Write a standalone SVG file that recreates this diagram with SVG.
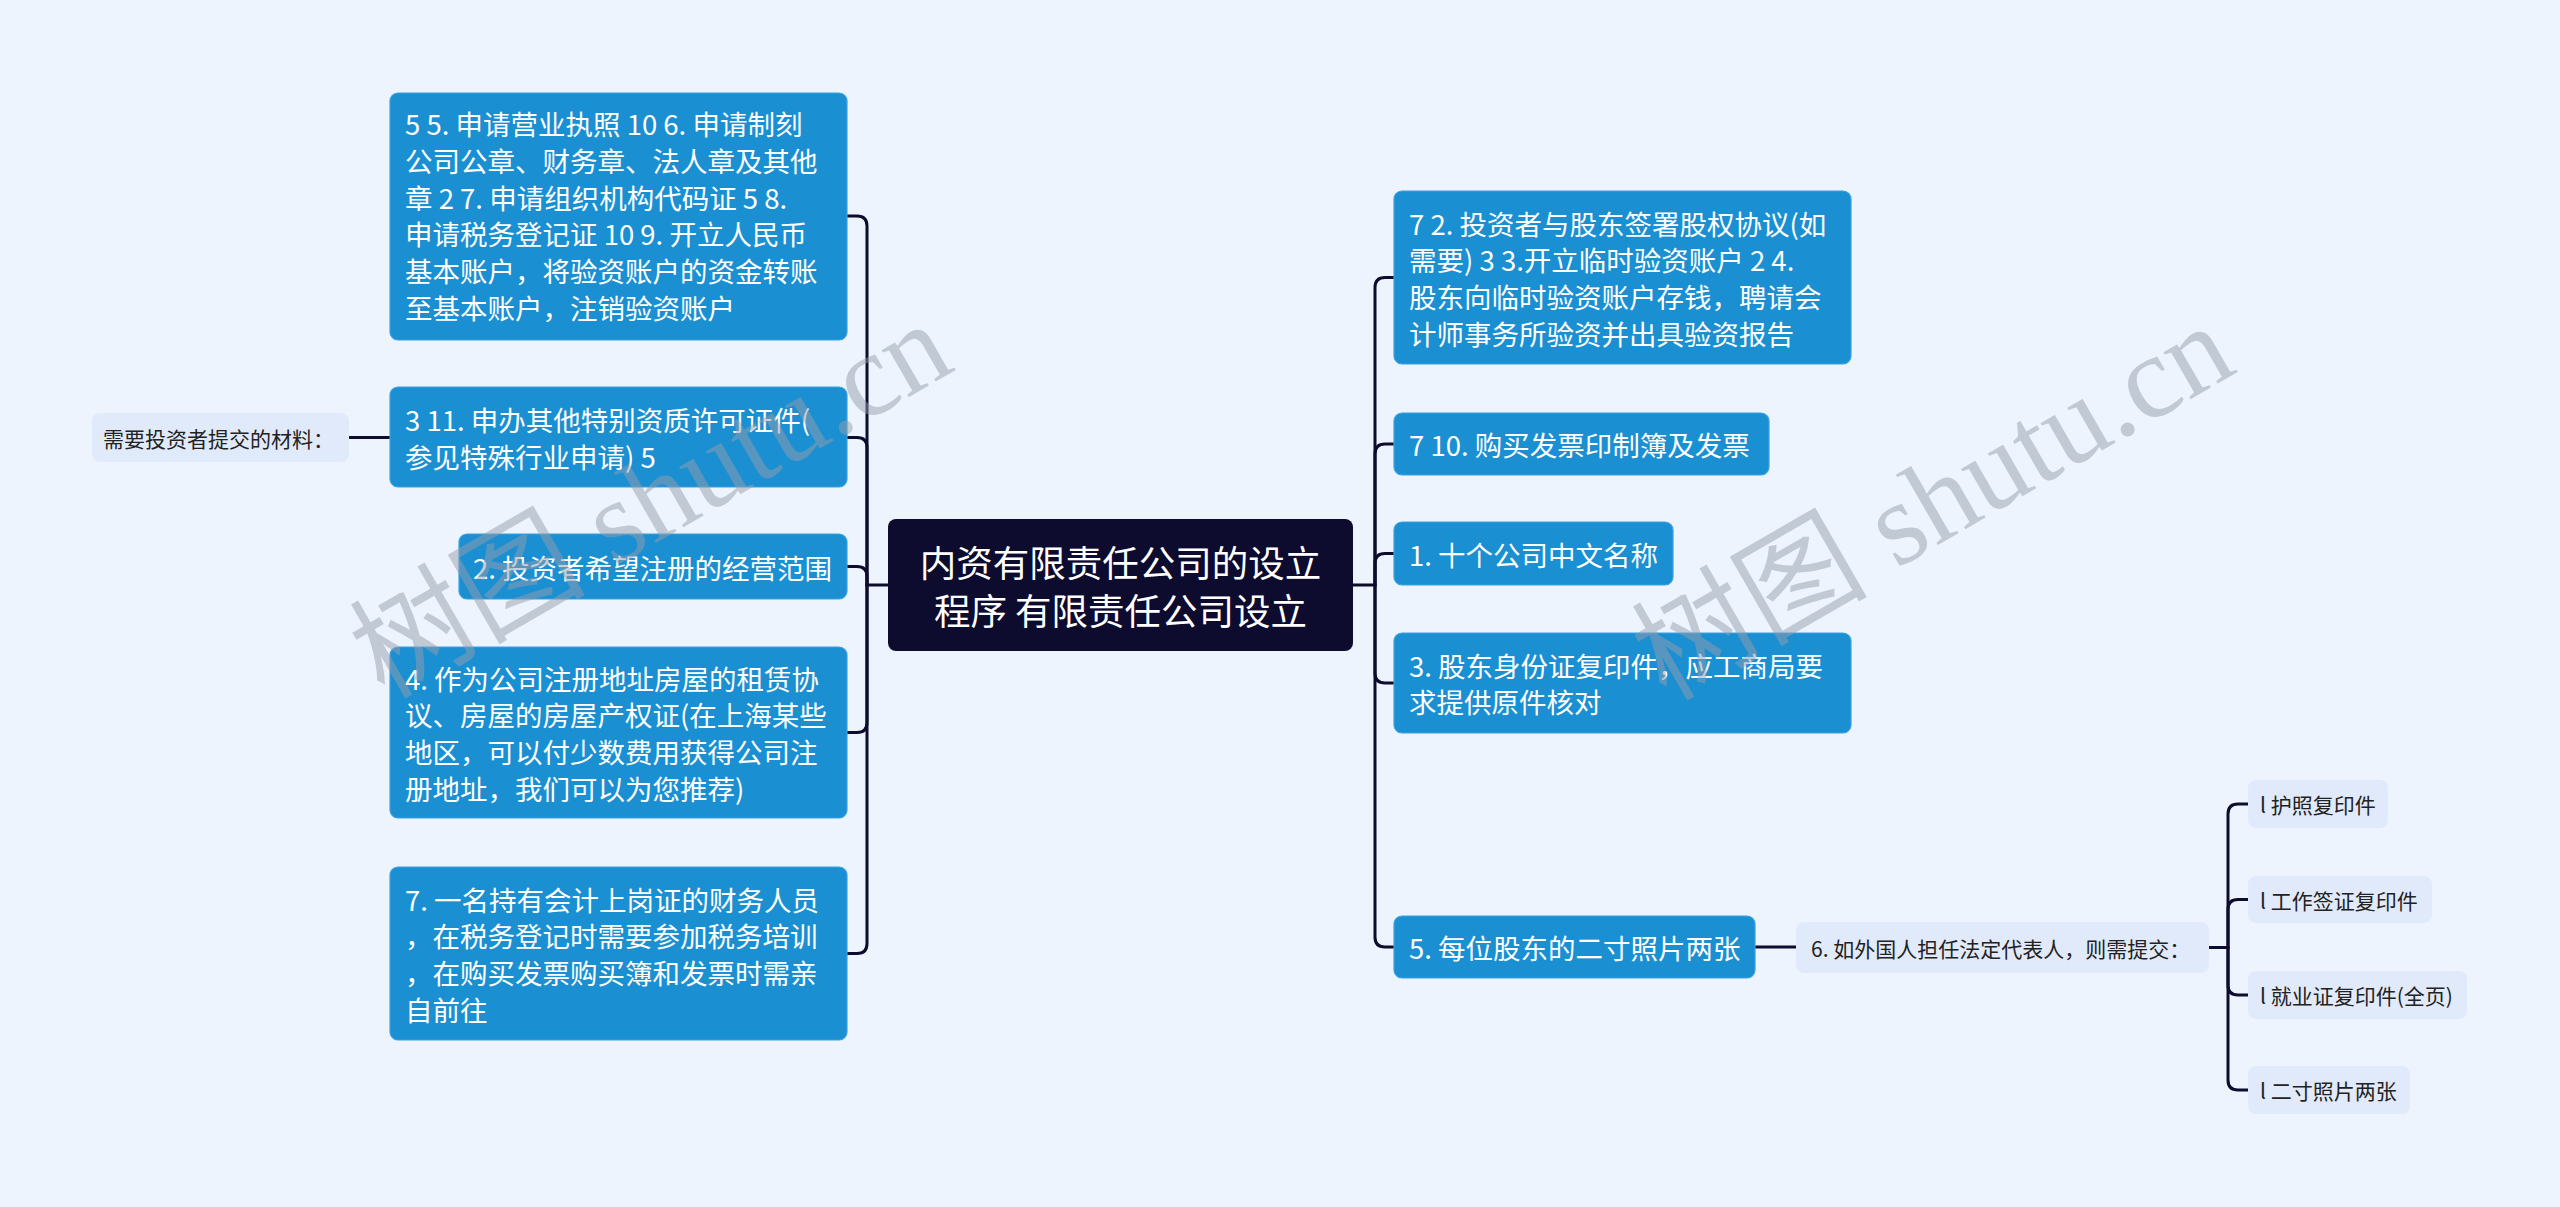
<svg xmlns="http://www.w3.org/2000/svg" width="2560" height="1207" viewBox="0 0 2560 1207">
<style>
.bg{fill:#edf4fe}
.blue rect{fill:#1a8fd2;stroke:#3aa2e2;stroke-width:1.2}
.blue text{fill:#ffffff;font-family:"Noto Sans CJK SC","Noto Sans",sans-serif;font-size:27.5px;dominant-baseline:central}
.root rect{fill:#0d0b2e}
.root text{fill:#ffffff;font-family:"Noto Sans CJK SC","Noto Sans",sans-serif;font-size:36.5px;dominant-baseline:central;text-anchor:middle}
.light rect{fill:#e1eafa}
.light text{fill:#222222;font-family:"Noto Sans CJK SC","Noto Sans",sans-serif;font-size:21px;dominant-baseline:central}
#connectors path{fill:none;stroke:#0d0b2e;stroke-width:3;stroke-linecap:round}
.wm{fill:#969eac;fill-opacity:0.5;font-family:"Liberation Serif","Noto Sans CJK SC",serif;font-size:118px}
</style>
<rect class="bg" x="0" y="0" width="2560" height="1207"/>

<g id="connectors">
  <!-- left side -->
  <path d="M888 585 H867 V226 Q867 216 857 216 H847"/>
  <path d="M867 585 V447.5 Q867 437.5 857 437.5 H847"/>
  <path d="M867 585 V576.5 Q867 566.5 857 566.5 H847"/>
  <path d="M867 585 V722.5 Q867 732.5 857 732.5 H847"/>
  <path d="M867 585 V943.5 Q867 953.5 857 953.5 H847"/>
  <path d="M390 437.5 H349"/>
  <!-- right side -->
  <path d="M1353 585 H1375 V287.5 Q1375 277.5 1385 277.5 H1394"/>
  <path d="M1375 585 V454 Q1375 444 1385 444 H1394"/>
  <path d="M1375 585 V563.5 Q1375 553.5 1385 553.5 H1394"/>
  <path d="M1375 585 V673 Q1375 683 1385 683 H1394"/>
  <path d="M1375 585 V937 Q1375 947 1385 947 H1394"/>
  <path d="M1755 947 H1796"/>
  <path d="M2209 947.5 H2228 V814 Q2228 804 2238 804 H2248"/>
  <path d="M2228 947.5 V909.5 Q2228 899.5 2238 899.5 H2248"/>
  <path d="M2228 947.5 V985 Q2228 995 2238 995 H2248"/>
  <path d="M2228 947.5 V1080 Q2228 1090 2238 1090 H2248"/>
</g>

<g id="root" class="root">
  <rect x="888" y="519" width="465" height="132" rx="8"/>
  <text x="1120.5"><tspan x="1120.5" y="561">内资有限责任公司的设立</tspan><tspan x="1120.5" y="609">程序 有限责任公司设立</tspan></text>
</g>

<g id="n-l1" class="blue">
  <rect x="390" y="93" width="457" height="247" rx="8"/>
  <text><tspan x="405" y="123">5 5. 申请营业执照 10 6. 申请制刻</tspan><tspan x="405" y="160">公司公章、财务章、法人章及其他</tspan><tspan x="405" y="197">章 2 7. 申请组织机构代码证 5 8.</tspan><tspan x="405" y="233">申请税务登记证 10 9. 开立人民币</tspan><tspan x="405" y="270">基本账户，将验资账户的资金转账</tspan><tspan x="405" y="307">至基本账户，注销验资账户</tspan></text>
</g>
<g id="n-l2" class="blue">
  <rect x="390" y="387" width="457" height="100" rx="8"/>
  <text><tspan x="405" y="419">3 11. 申办其他特别资质许可证件(</tspan><tspan x="405" y="456">参见特殊行业申请) 5</tspan></text>
</g>
<g id="n-l2a" class="light">
  <rect x="92" y="413" width="257" height="49" rx="8"/>
  <text x="103" y="438">需要投资者提交的材料：</text>
</g>
<g id="n-l3" class="blue">
  <rect x="459" y="534" width="388" height="65" rx="8"/>
  <text x="473" y="566.5">2. 投资者希望注册的经营范围</text>
</g>
<g id="n-l4" class="blue">
  <rect x="390" y="647" width="457" height="171" rx="8"/>
  <text><tspan x="405" y="677.5">4. 作为公司注册地址房屋的租赁协</tspan><tspan x="405" y="714.2">议、房屋的房屋产权证(在上海某些</tspan><tspan x="405" y="750.8">地区，可以付少数费用获得公司注</tspan><tspan x="405" y="787.5">册地址，我们可以为您推荐)</tspan></text>
</g>
<g id="n-l5" class="blue">
  <rect x="390" y="867" width="457" height="173" rx="8"/>
  <text><tspan x="405" y="898.5">7. 一名持有会计上岗证的财务人员</tspan><tspan x="405" y="935.2">，在税务登记时需要参加税务培训</tspan><tspan x="405" y="971.8">，在购买发票购买簿和发票时需亲</tspan><tspan x="405" y="1008.5">自前往</tspan></text>
</g>

<g id="n-r1" class="blue">
  <rect x="1394" y="191" width="457" height="173" rx="8"/>
  <text><tspan x="1409" y="222.5">7 2. 投资者与股东签署股权协议(如</tspan><tspan x="1409" y="259.2">需要) 3 3.开立临时验资账户 2 4.</tspan><tspan x="1409" y="295.8">股东向临时验资账户存钱，聘请会</tspan><tspan x="1409" y="332.5">计师事务所验资并出具验资报告</tspan></text>
</g>
<g id="n-r2" class="blue">
  <rect x="1394" y="413" width="375" height="62" rx="8"/>
  <text x="1409" y="444">7 10. 购买发票印制簿及发票</text>
</g>
<g id="n-r3" class="blue">
  <rect x="1394" y="522" width="279" height="63" rx="8"/>
  <text x="1409" y="553.5">1. 十个公司中文名称</text>
</g>
<g id="n-r4" class="blue">
  <rect x="1394" y="633" width="457" height="100" rx="8"/>
  <text><tspan x="1409" y="664.7">3. 股东身份证复印件，应工商局要</tspan><tspan x="1409" y="701.3">求提供原件核对</tspan></text>
</g>
<g id="n-r5" class="blue">
  <rect x="1394" y="916" width="361" height="62" rx="8"/>
  <text x="1409" y="947">5. 每位股东的二寸照片两张</text>
</g>
<g id="n-r5a" class="light">
  <rect x="1796" y="922" width="413" height="51" rx="8"/>
  <text x="1811" y="947.5">6. 如外国人担任法定代表人，则需提交：</text>
</g>
<g id="n-leaf1" class="light">
  <rect x="2248" y="780" width="140" height="48" rx="8"/>
  <text x="2260" y="804">l 护照复印件</text>
</g>
<g id="n-leaf2" class="light">
  <rect x="2248" y="876" width="184" height="47" rx="8"/>
  <text x="2260" y="899.5">l 工作签证复印件</text>
</g>
<g id="n-leaf3" class="light">
  <rect x="2248" y="971" width="219" height="48" rx="8"/>
  <text x="2260" y="995">l 就业证复印件(全页)</text>
</g>
<g id="n-leaf4" class="light">
  <rect x="2248" y="1066" width="162" height="48" rx="8"/>
  <text x="2260" y="1090">l 二寸照片两张</text>
</g>

<g id="watermarks">
  <text class="wm" transform="translate(384 700) rotate(-30)">树图 shutu.cn</text>
  <text class="wm" transform="translate(1666 702) rotate(-30)">树图 shutu.cn</text>
</g>
</svg>
